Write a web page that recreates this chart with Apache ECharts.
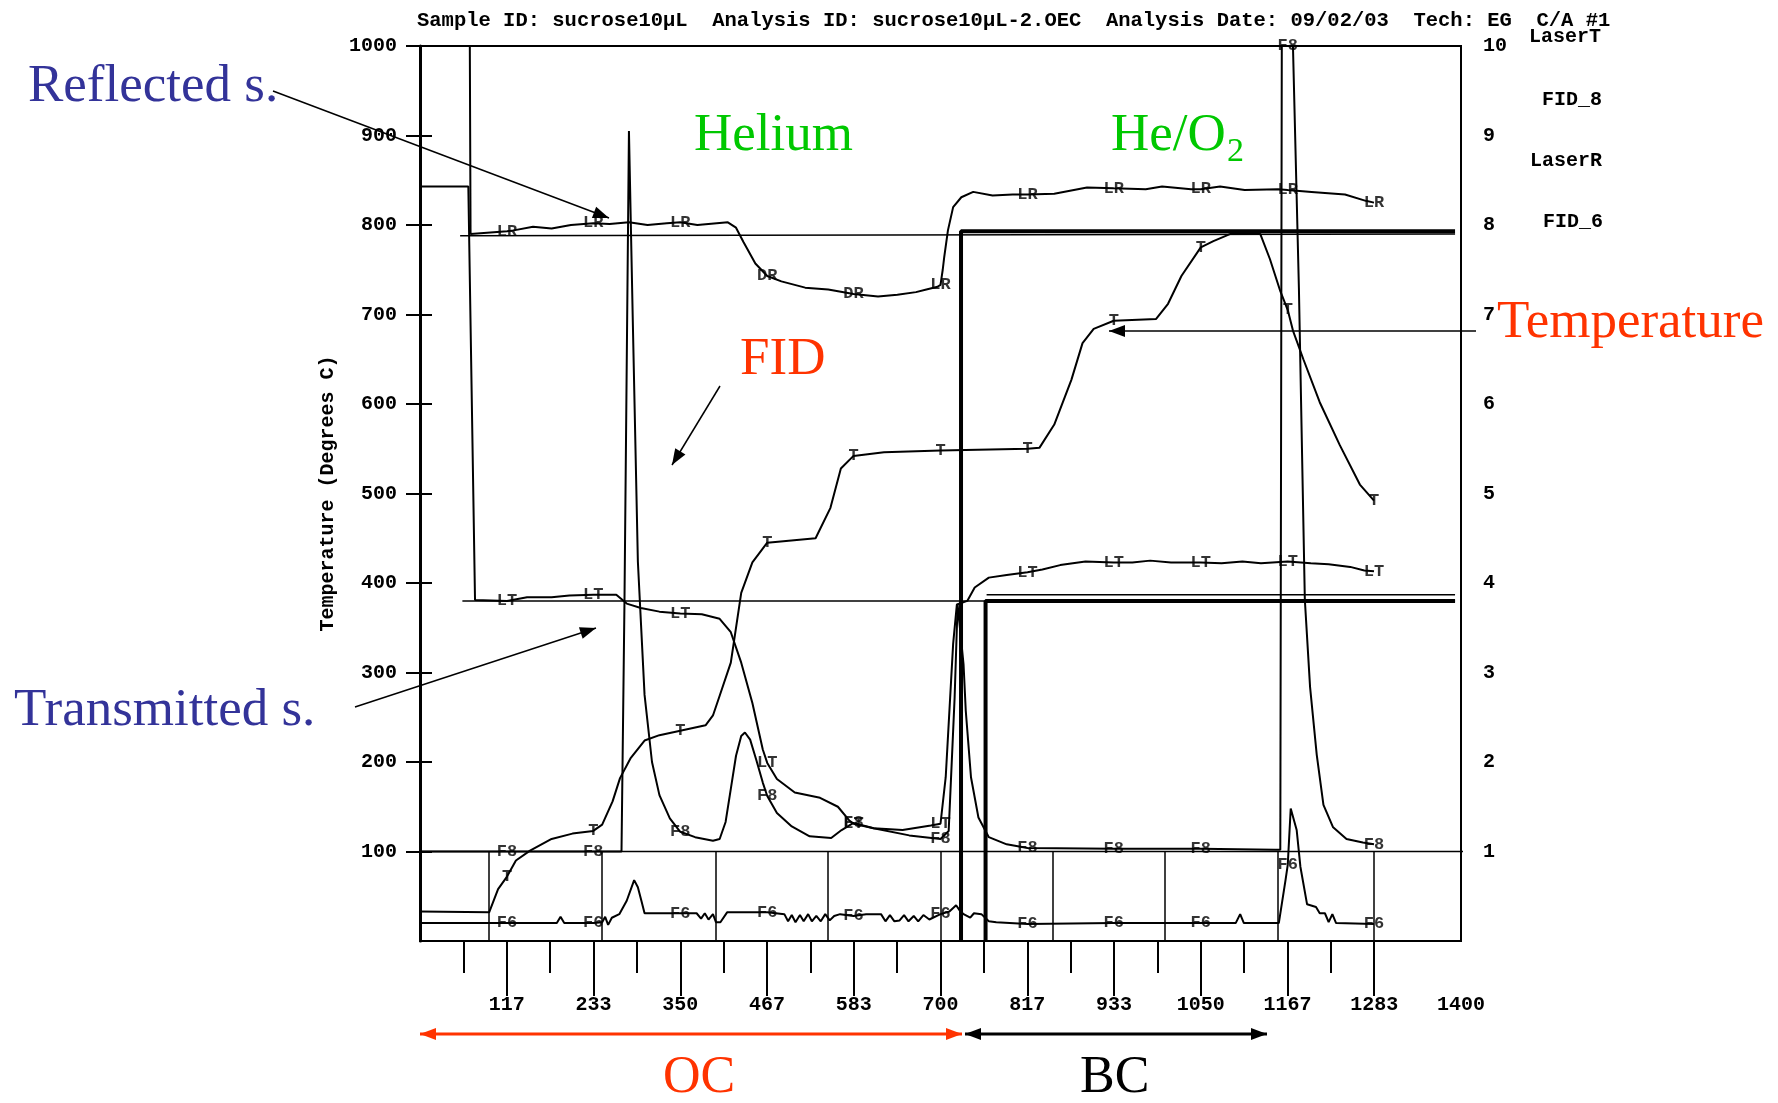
<!DOCTYPE html>
<html>
<head>
<meta charset="utf-8">
<title>sucrose10µL thermogram</title>
<script src="https://cdn.jsdelivr.net/npm/echarts@6/dist/echarts.min.js"></script>
<style>
html, body { margin: 0; padding: 0; background: #fff; }
#main { width: 1778px; height: 1103px; }
</style>
</head>
<body>
<div id="main"></div>
<script>
var chartDom = document.getElementById('main');
var myChart = echarts.init(chartDom);
var option;

// axis ticks and labels
var xLabelValues = [116.67, 233.33, 350, 466.67, 583.33, 700, 816.67, 933.33, 1050, 1166.67, 1283.33, 1400];
var xMajorTicks = [116.67, 233.33, 350, 466.67, 583.33, 700, 816.67, 933.33, 1050, 1166.67, 1283.33];
var xMinorTicks = [58.33, 175, 291.67, 408.33, 525, 641.67, 758.33, 875, 991.67, 1108.33, 1225];
var tempTicks = [100, 200, 300, 400, 500, 600, 700, 800, 900, 1000];
var signalTicks = [1, 2, 3, 4, 5, 6, 7, 8, 9, 10];

// where the curve letters are printed
var markerX = [117, 233, 350, 467, 583, 700, 817, 933, 1050, 1167, 1283];

// temperature, degrees C (left axis)
var tempC = [[0,33],[93,32],[105,58],[117,72],[129,90],[148,101],[177,114],[205,120],[233,123],[245,130],[259,156],[269,182],[283,204],[302,224],[322,230],[350,235],[384,241],[394,252],[403,274],[418,311],[432,389],[447,423],[467,445],[532,450],[552,484],[566,528],[583,542],[624,546],[700,548],[817,550],[833,551],[853,577],[876,627],[891,668],[906,684],[933,693],[990,695],[1006,712],[1024,743],[1050,775],[1067,782],[1090,790],[1130,790],[1143,762],[1157,726],[1167,705],[1174,682],[1188,650],[1210,602],[1237,554],[1264,510],[1283,492]];

// laser reflectance (right axis)
var laserR = [[0,10],[67,10],[68,7.9],[117,7.93],[126,7.94],[152,7.98],[177,7.96],[203,8.0],[233,8.02],[255,8.01],[281,8.03],[306,8.0],[332,8.02],[350,8.03],[373,8.0],[414,8.03],[425,7.97],[435,7.81],[451,7.57],[467,7.43],[486,7.37],[518,7.3],[549,7.28],[583,7.23],[616,7.2],[642,7.22],[667,7.25],[681,7.28],[696,7.31],[700,7.33],[703,7.5],[705,7.64],[710,7.94],[717,8.2],[728,8.31],[744,8.37],[770,8.33],[797,8.34],[817,8.34],[853,8.35],[897,8.42],[933,8.41],[976,8.4],[998,8.43],[1037,8.4],[1050,8.4],[1076,8.43],[1109,8.39],[1154,8.4],[1167,8.39],[1199,8.37],[1244,8.34],[1272,8.27],[1283,8.25]];

// laser transmittance (right axis)
var laserT = [[0,8.43],[65,8.43],[74,3.81],[117,3.8],[144,3.84],[177,3.84],[201,3.86],[233,3.87],[264,3.87],[278,3.77],[297,3.72],[322,3.68],[350,3.66],[379,3.65],[403,3.6],[418,3.45],[432,3.11],[447,2.66],[461,2.14],[467,1.99],[480,1.81],[504,1.66],[538,1.6],[562,1.5],[577,1.35],[583,1.31],[610,1.26],[649,1.24],[687,1.29],[700,1.31],[707,1.83],[717,3.32],[722,3.76],[736,3.8],[746,3.95],[765,4.06],[789,4.09],[817,4.12],[837,4.15],[861,4.2],[895,4.24],[933,4.23],[958,4.23],[982,4.25],[1010,4.23],[1050,4.23],[1078,4.22],[1106,4.24],[1131,4.22],[1167,4.24],[1198,4.22],[1222,4.21],[1251,4.18],[1270,4.14],[1283,4.13]];

// FID_8 (right axis)
var fid8 = [[0,1.0],[117,1.0],[233,1.0],[271,1.0],[275,3.8],[281,9.05],[286,7.0],[293,4.24],[302,2.75],[312,2.0],[322,1.63],[336,1.37],[350,1.22],[370,1.16],[394,1.12],[403,1.14],[411,1.33],[418,1.7],[425,2.07],[432,2.29],[437,2.33],[444,2.25],[452,2.03],[461,1.77],[467,1.62],[480,1.43],[500,1.28],[524,1.17],[553,1.15],[567,1.24],[583,1.32],[610,1.26],[658,1.18],[700,1.14],[711,1.23],[719,2.72],[723,3.76],[731,3.09],[734,2.57],[741,1.83],[751,1.38],[765,1.16],[789,1.08],[817,1.04],[933,1.03],[1050,1.03],[1150,1.02],[1157,1.02],[1159,10],[1167,10],[1174,10],[1182,7.3],[1190,3.81],[1197,2.84],[1206,2.08],[1215,1.52],[1228,1.27],[1246,1.14],[1268,1.1],[1283,1.08]];

// FID_6 (right axis)
var fid6 = [[0,0.2],[117,0.2],[184,0.2],[189,0.27],[194,0.2],[233,0.2],[245,0.21],[249,0.27],[253,0.18],[258,0.26],[268,0.3],[278,0.45],[288,0.68],[293,0.6],[298,0.44],[302,0.31],[350,0.31],[372,0.31],[378,0.25],[383,0.31],[388,0.24],[394,0.3],[398,0.21],[404,0.21],[413,0.32],[467,0.32],[490,0.3],[495,0.22],[500,0.29],[505,0.21],[511,0.29],[516,0.22],[522,0.3],[527,0.22],[533,0.28],[539,0.22],[545,0.3],[551,0.23],[557,0.28],[565,0.3],[583,0.28],[600,0.3],[620,0.3],[626,0.22],[632,0.29],[638,0.22],[645,0.23],[651,0.29],[657,0.22],[664,0.28],[670,0.22],[677,0.29],[685,0.24],[700,0.3],[712,0.33],[721,0.4],[726,0.34],[731,0.3],[740,0.26],[745,0.31],[755,0.3],[765,0.22],[775,0.21],[817,0.19],[933,0.2],[1050,0.2],[1097,0.2],[1103,0.3],[1108,0.2],[1155,0.2],[1164,0.68],[1167,0.85],[1171,1.48],[1179,1.24],[1184,0.83],[1193,0.41],[1205,0.38],[1210,0.31],[1217,0.31],[1222,0.21],[1227,0.3],[1232,0.2],[1283,0.19]];

// straight reference lines and oven steps (right axis)
var refLR = [[54,7.88],[1392,7.9]];
var refLT = [[57,3.8],[1392,3.8]];
var refBase = [[0,1],[1408,1]];
var stepA = [[727.6,0],[727.6,7.93],[1392,7.93]];
var stepB = [[760.6,0],[760.6,3.8],[1392,3.8]];
var stepB2 = [[762,3.87],[1392,3.87]];
var stripX = [93, 245, 398, 548, 700, 851, 1002, 1154, 1282];

var lrNames = ['LR','LR','LR','DR','DR','LR','LR','LR','LR','LR','LR'];
var ltNames = ['LT','LT','LT','LT','LT','LT','LT','LT','LT','LT','LT'];
var tNames = ['T','T','T','T','T','T','T','T','T','T','T'];
var f8Names = ['F8','F8','F8','F8','F8','F8','F8','F8','F8','F8','F8'];
var f6Names = ['F6','F6','F6','F6','F6','F6','F6','F6','F6','F6','F6'];

var mono = '"Liberation Mono", "DejaVu Sans Mono", monospace';
var serif = '"Liberation Serif", "DejaVu Serif", serif';

function markerData(curve, names) {
    return markerX.map(function (x, i) {
        var p = curve.find(function (q) { return q[0] === x; });
        return { name: names[i], value: p };
    });
}

function curveSeries(name, data, yIdx) {
    return {
        name: name, type: 'line', data: data, yAxisIndex: yIdx,
        showSymbol: false, symbol: 'none', z: 5,
        lineStyle: { color: '#000', width: 2 }
    };
}

function markerSeries(data, yIdx) {
    return {
        type: 'scatter', data: data, yAxisIndex: yIdx, symbolSize: 1, z: 6,
        itemStyle: { color: 'rgba(0,0,0,0)' },
        label: {
            show: true, position: 'inside', formatter: '{b}', color: '#000',
            fontFamily: mono, fontWeight: 'bold', fontSize: 17
        }
    };
}

function plainLine(data, width, extra) {
    var s = {
        type: 'line', data: data, yAxisIndex: 1, showSymbol: false, symbol: 'none', z: 3,
        lineStyle: { color: '#000', width: width }
    };
    return Object.assign(s, extra || {});
}

function arrowHead(x1, y1, x2, y2, color, len, half) {
    var a = Math.atan2(y2 - y1, x2 - x1);
    var bx = x2 - len * Math.cos(a), by = y2 - len * Math.sin(a);
    return {
        type: 'polygon', z: 100,
        shape: { points: [[x2, y2], [bx + half * Math.sin(a), by - half * Math.cos(a)], [bx - half * Math.sin(a), by + half * Math.cos(a)]] },
        style: { fill: color }
    };
}

function arrow(x1, y1, x2, y2, color, width, both) {
    var els = [{ type: 'line', z: 100, shape: { x1: x1, y1: y1, x2: x2, y2: y2 }, style: { stroke: color, lineWidth: width } }];
    els.push(arrowHead(x1, y1, x2, y2, color, 16, 6));
    if (both) els.push(arrowHead(x2, y2, x1, y1, color, 16, 6));
    return els;
}

function txt(text, x, y, font, color) {
    return {
        type: 'text', z: 100, x: x, y: y,
        style: { text: text, font: font, fill: color, align: 'left', verticalAlign: 'middle', textAlign: 'left', textVerticalAlign: 'middle' }
    };
}

var blue = '#333399', green = '#00c800', red = '#ff3300';

var graphics = [
    txt('Sample ID: sucrose10µL  Analysis ID: sucrose10µL-2.OEC  Analysis Date: 09/02/03  Tech: EG  C/A #1', 417, 21, 'bold 20.5px ' + mono, '#000'),
    txt('LaserT', 1529, 37, 'bold 20px ' + mono, '#000'),
    txt('FID_8', 1542, 100, 'bold 20px ' + mono, '#000'),
    txt('LaserR', 1530, 161, 'bold 20px ' + mono, '#000'),
    txt('FID_6', 1543, 222, 'bold 20px ' + mono, '#000'),
    txt('Reflected s.', 28, 87, '53px ' + serif, blue),
    txt('Transmitted s.', 14, 711, '53px ' + serif, blue),
    txt('Helium', 694, 136, '53px ' + serif, green),
    txt('He/O', 1111, 136, '53px ' + serif, green),
    txt('2', 1227, 152, '34px ' + serif, green),
    txt('FID', 740, 360, '53px ' + serif, red),
    txt('Temperature', 1497, 323, '53px ' + serif, red),
    txt('OC', 663, 1078, '52px ' + serif, red),
    txt('BC', 1080, 1078, '52px ' + serif, '#000')
].concat(
    arrow(273, 91, 609, 218, '#000', 1.5, false),
    arrow(355, 707, 596, 628, '#000', 1.5, false),
    arrow(720, 386, 672, 465, '#000', 1.5, false),
    arrow(1476, 331, 1109, 331, '#000', 1.5, false),
    arrow(962, 1034, 420, 1034, red, 3, true),
    arrow(965, 1034, 1267, 1034, '#000', 3, true)
);

option = {
    animation: false,
    backgroundColor: '#fff',
    grid: {
        left: 420, right: 317, top: 46, bottom: 162,
        show: true, borderColor: '#000', borderWidth: 2
    },
    xAxis: [
        {
            type: 'value', min: 0, max: 1400, interval: 1400 / 12,
            axisLine: { show: true, onZero: false, lineStyle: { color: '#000', width: 2 } },
            axisTick: { show: true, customValues: xMajorTicks, length: 55, lineStyle: { color: '#000', width: 2 } },
            axisLabel: {
                customValues: xLabelValues, margin: 54, color: '#000',
                fontFamily: mono, fontWeight: 'bold', fontSize: 20,
                formatter: function (v) { return String(Math.round(v)); }
            },
            splitLine: { show: false }
        },
        {
            type: 'value', min: 0, max: 1400, interval: 1400 / 12, position: 'bottom',
            axisLine: { show: false, onZero: false },
            axisTick: { show: true, customValues: xMinorTicks, length: 32, lineStyle: { color: '#000', width: 2 } },
            axisLabel: { show: false },
            splitLine: { show: false }
        }
    ],
    yAxis: [
        {
            type: 'value', min: 0, max: 1000, interval: 100, position: 'left',
            name: 'Temperature (Degrees C)', nameLocation: 'middle', nameGap: 77, nameRotate: 90,
            nameTextStyle: { color: '#000', fontFamily: mono, fontWeight: 'bold', fontSize: 20 },
            axisLine: { show: true, lineStyle: { color: '#000', width: 3 } },
            axisTick: { show: true, customValues: tempTicks, length: 14, lineStyle: { color: '#000', width: 2 } },
            axisLabel: {
                customValues: tempTicks, margin: 23, color: '#000', fontFamily: mono, fontWeight: 'bold', fontSize: 20,
                formatter: function (v) { return String(v); }
            },
            splitLine: { show: false }
        },
        {
            type: 'value', min: 0, max: 10, interval: 1, position: 'right',
            axisLine: { show: true, lineStyle: { color: '#000', width: 2 } },
            axisTick: { show: true, customValues: signalTicks, length: 12, lineStyle: { color: '#000', width: 2 } },
            axisLabel: {
                customValues: signalTicks, margin: 22, color: '#000', fontFamily: mono, fontWeight: 'bold', fontSize: 20,
                formatter: function (v) { return String(v); }
            },
            splitLine: { show: false }
        }
    ],
    graphic: graphics,
    series: [
        {
            type: 'lines', coordinateSystem: 'cartesian2d', xAxisIndex: 0, yAxisIndex: 1, z: 3,
            lineStyle: { color: '#000', width: 1.5, opacity: 1 },
            data: stripX.map(function (x) { return { coords: [[x, 0], [x, 1]] }; })
        },
        plainLine(refLR, 1.5),
        plainLine(refLT, 1.5),
        plainLine(refBase, 1.5, { clip: false }),
        plainLine(stepA, 4),
        plainLine(stepB, 4),
        plainLine(stepB2, 1.5),
        curveSeries('Temperature', tempC, 0),
        curveSeries('LaserR', laserR, 1),
        curveSeries('LaserT', laserT, 1),
        curveSeries('FID_8', fid8, 1),
        curveSeries('FID_6', fid6, 1),
        markerSeries(markerData(tempC, tNames), 0),
        markerSeries(markerData(laserR, lrNames), 1),
        markerSeries(markerData(laserT, ltNames), 1),
        markerSeries(markerData(fid8, f8Names), 1),
        markerSeries(markerData(fid6, f6Names), 1)
    ]
};

option && myChart.setOption(option);
</script>
</body>
</html>
